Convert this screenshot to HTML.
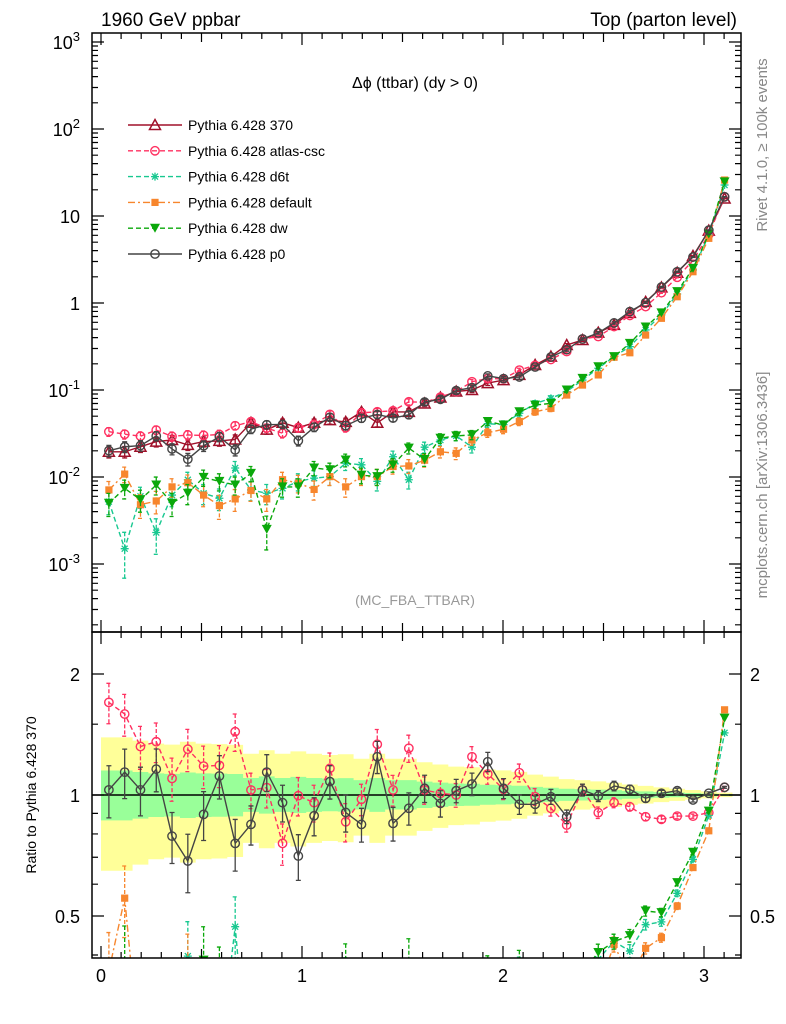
<!DOCTYPE html>
<html><head><meta charset="utf-8"><style>
html,body{margin:0;padding:0;background:#fff;overflow:hidden;width:786px;height:1024px}
svg{display:block}
svg text{font-family:"Liberation Sans",sans-serif}
</style></head><body>
<svg id="c" width="786" height="1024" xmlns="http://www.w3.org/2000/svg">
<defs>
<clipPath id="cm"><rect x="92" y="33" width="649" height="599"/></clipPath>
<clipPath id="cr"><rect x="92" y="632" width="649" height="326"/></clipPath>
</defs>
<g id="bands" clip-path="url(#cr)"></g>
<g id="marks"></g>
<g id="axes"></g>
<text x="101" y="26" font-size="19">1960 GeV ppbar</text>
<text x="737" y="26" font-size="19" text-anchor="end">Top (parton level)</text>
<text x="415" y="88" font-size="16" text-anchor="middle">Δϕ (ttbar) (dy &gt; 0)</text>
<text x="415" y="605" font-size="14" fill="#999" text-anchor="middle">(MC_FBA_TTBAR)</text>
<text transform="translate(767,145) rotate(-90)" font-size="15" fill="#888" text-anchor="middle">Rivet 4.1.0, ≥ 100k events</text>
<text transform="translate(767,485) rotate(-90)" font-size="15" fill="#888" text-anchor="middle">mcplots.cern.ch [arXiv:1306.3436]</text>
<text transform="translate(36,795) rotate(-90)" font-size="14" text-anchor="middle">Ratio to Pythia 6.428 370</text>
<g id="legend"></g>
</svg>
<script>
const NS="http://www.w3.org/2000/svg";
const nBins=40;
const ref370=[0.0195,0.0195,0.0223,0.0255,0.0266,0.0234,0.0255,0.026,0.027,0.042,0.035,0.042,0.037,0.042,0.045,0.043,0.056,0.042,0.056,0.056,0.070,0.082,0.096,0.1,0.12,0.13,0.149,0.194,0.242,0.329,0.375,0.456,0.56,0.77,1.03,1.51,2.23,3.47,6.8,15.9];
const p0Ratio=[1.03,1.14,1.03,1.16,0.79,0.685,0.895,1.115,0.758,0.845,1.14,0.957,0.705,0.888,1.08,0.905,0.845,1.245,0.85,0.927,1.039,0.953,1.025,1.065,1.21,1.039,0.948,0.948,0.99,0.883,1.029,0.994,1.053,1.033,0.981,1.01,1.025,0.972,1.01,1.045];
const atlasRatio=[1.70,1.59,1.32,1.357,1.10,1.30,1.18,1.185,1.437,1.029,1.043,0.758,0.996,0.957,1.165,0.858,0.976,1.337,1.029,1.307,1.029,1.01,1.0,1.245,1.128,1.033,1.136,0.99,0.927,0.842,1.029,0.904,0.957,0.935,0.883,0.87,0.886,0.886,0.904,1.045];
const d6t=[0.0052,0.0015,0.0060,0.0023,0.0062,0.0093,0.0065,0.0057,0.0127,0.0071,0.0065,0.0074,0.0089,0.0097,0.0101,0.0144,0.0138,0.0089,0.0171,0.0093,0.022,0.0266,0.0297,0.022,0.041,0.040,0.054,0.070,0.080,0.096,0.130,0.178,0.242,0.315,0.49,0.73,1.27,2.4,6.05,22.7];
const dflt=[0.0071,0.0108,0.0048,0.0053,0.0077,0.0086,0.0062,0.0047,0.0056,0.0070,0.0056,0.0093,0.0085,0.0072,0.0101,0.0077,0.0101,0.0101,0.0132,0.0134,0.0156,0.0195,0.0187,0.0266,0.0323,0.0354,0.0434,0.0562,0.0616,0.0875,0.114,0.149,0.238,0.268,0.428,0.667,1.18,2.29,5.54,25.9];
const dw=[0.0050,0.0074,0.0055,0.0081,0.0050,0.0065,0.0099,0.0089,0.0081,0.011,0.0025,0.0077,0.0077,0.0127,0.0121,0.0157,0.0105,0.0101,0.0138,0.0215,0.0159,0.0279,0.0297,0.0305,0.0434,0.0396,0.0562,0.0671,0.0702,0.1,0.136,0.185,0.242,0.344,0.53,0.77,1.35,2.5,6.2,24.7];
const yTickLabels=["10^-3","10^-2","10^-1","1","10","10^2","10^3"];
const ratioTicks=[0.5,1,2];
const xTickLabels=[0,1,2,3];

const xs=v=>101+201*v;
const ym=v=>303-87*Math.log10(v);
const yr=r=>795-402*Math.log10(r);
const binW=Math.PI/nBins;
const cx=i=>xs((i+0.5)*binW);
const relErr=v=>Math.min(0.75,0.021/Math.sqrt(v));
const YMAX=960;
const svg=document.getElementById('c');
function mk(tag,attrs,parent){const e=document.createElementNS(NS,tag);for(const k in attrs)e.setAttribute(k,attrs[k]);(parent||svg).appendChild(e);return e;}

const bands=document.getElementById('bands');
[[2.6,'#ffff99'],[1,'#99ff99']].forEach(([k,col])=>{
  let up="",dn="";
  for(let i=0;i<nBins;i++){const e=relErr(ref370[i])*k;const x0=xs(i*binW),x1=xs((i+1)*binW);
    up+=(i?"L":"M")+x0+","+yr(1+e)+"L"+x1+","+yr(1+e);
    const lo=Math.max(0.4,1-e*0.9);
    dn=" L"+x1+","+yr(lo)+" L"+x0+","+yr(lo)+dn;}
  const p=mk('path',{d:up+dn+"Z",fill:col},bands);
  
  
});
mk('line',{x1:92,x2:741,y1:795,y2:795,stroke:'#000','stroke-width':1.5},bands);

const series=[
 {name:'370',label:'Pythia 6.428 370',col:'#a0102a',dash:'',mark:'tri',vals:ref370.slice(),ratio:ref370.map(()=>1)},
 {name:'atlas-csc',label:'Pythia 6.428 atlas-csc',col:'#ff3060',dash:'5,3',mark:'circ',vals:ref370.map((v,i)=>v*atlasRatio[i]),ratio:atlasRatio},
 {name:'d6t',label:'Pythia 6.428 d6t',col:'#18c890',dash:'5,3',mark:'star',vals:d6t,ratio:d6t.map((v,i)=>v/ref370[i])},
 {name:'default',label:'Pythia 6.428 default',col:'#f7862d',dash:'7,3,2,3',mark:'sq',vals:dflt,ratio:dflt.map((v,i)=>v/ref370[i])},
 {name:'dw',label:'Pythia 6.428 dw',col:'#0aa80a',dash:'5,3',mark:'tridn',vals:dw,ratio:dw.map((v,i)=>v/ref370[i])},
 {name:'p0',label:'Pythia 6.428 p0',col:'#444444',dash:'',mark:'circ',vals:ref370.map((v,i)=>v*p0Ratio[i]),ratio:p0Ratio}
];
function marker(g,type,x,y,col){
  let e;
  if(type=='tri')e=mk('path',{d:`M${x},${y-5.5}L${x+5.5},${y+4.5}L${x-5.5},${y+4.5}Z`,fill:'none',stroke:col,'stroke-width':1.5},g);
  else if(type=='tridn')e=mk('path',{d:`M${x-5},${y-4.5}L${x+5},${y-4.5}L${x},${y+4.5}Z`,fill:col},g);
  else if(type=='circ')e=mk('circle',{cx:x,cy:y,r:4.2,fill:'none',stroke:col,'stroke-width':1.4},g);
  else if(type=='sq')e=mk('rect',{x:x-3.6,y:y-3.6,width:7.2,height:7.2,fill:col},g);
  else {e=mk('path',{d:`M${x-4},${y}h8M${x},${y-4}v8M${x-3},${y-3}l6,6M${x+3},${y-3}l-6,6`,stroke:col,'stroke-width':1.3},g);}
  return e;
}
function clippedPath(P){
  let d="",pen=false;
  for(let i=0;i<P.length-1;i++){
    let [x1,y1]=P[i],[x2,y2]=P[i+1];
    if(y1>YMAX&&y2>YMAX){pen=false;continue;}
    if(y1>YMAX){const t=(YMAX-y1)/(y2-y1);x1=x1+t*(x2-x1);y1=YMAX;pen=false;}
    let endClip=false;
    if(y2>YMAX){const t=(YMAX-y1)/(y2-y1);x2=x1+t*(x2-x1);y2=YMAX;endClip=true;}
    if(!pen)d+=`M${x1.toFixed(1)},${y1.toFixed(1)}`;
    d+=`L${x2.toFixed(1)},${y2.toFixed(1)}`;
    pen=!endClip;
  }
  return d;
}
const marks=document.getElementById('marks');
series.forEach(s=>{
  [['main',s.vals,ym,'cm'],['ratio',s.ratio,yr,'cr']].forEach(([panel,arr,yf,clip])=>{
    const g=mk('g',{'clip-path':`url(#${clip})`},marks);
    
    
    if(panel=='ratio'&&s.name=='370')return;
    const P=arr.map((v,i)=>[cx(i),yf(v)]);
    const pl=mk('path',{d:clippedPath(P),fill:'none',stroke:s.col,'stroke-width':1.4,'stroke-dasharray':s.dash},g);
    
    
    arr.forEach((v,i)=>{
      const e=relErr(s.vals[i]);const x=cx(i);
      const y1=yf(v*(1+e));
      if(y1>YMAX)return;
      const y2raw=yf(Math.max(v*(1-e),1e-9));
      const y2=Math.min(y2raw,YMAX);
      const cap2=y2raw<=YMAX?`M${x-2.5},${y2}h5`:"";
      const eb=mk('path',{d:`M${x},${y1}V${y2}M${x-2.5},${y1}h5${cap2}`,stroke:s.col,'stroke-width':1.3,'stroke-dasharray':s.dash?'4,2':''},g);
      
      
      const y=yf(v);
      if(y>YMAX+6)return;
      const m=marker(g,s.mark,x,y,s.col);
      
      
    });
  });
});
const lg=document.getElementById('legend');
series.forEach((s,k)=>{
  const y=125+k*25.8;
  const g=mk('g',{},lg);
  
  
  mk('line',{x1:128,x2:182,y1:y,y2:y,stroke:s.col,'stroke-width':1.4,'stroke-dasharray':s.dash},g);
  marker(g,s.mark,155,y,s.col);
  const t=mk('text',{x:188,y:y+5,'font-size':14},g);t.textContent=s.label;
});
const ax=document.getElementById('axes');
mk('rect',{x:92,y:33,width:649,height:599,fill:'none',stroke:'#000','stroke-width':1.5},ax);
mk('rect',{x:92,y:632,width:649,height:326,fill:'none',stroke:'#000','stroke-width':1.5},ax);
let d="";
for(let e=-4;e<=3;e++){for(let m=1;m<10;m++){const v=m*Math.pow(10,e);const y=ym(v);if(y<33||y>632)continue;const L=m==1?12:6;d+=`M92,${y}h${L}M741,${y}h${-L}`;}}
[0.4,0.5,0.6,0.7,0.8,0.9,1,1.5,2].forEach(r=>{const y=yr(r);const L=(r==0.5||r==1||r==2)?12:6;d+=`M92,${y}h${L}M741,${y}h${-L}`;});
for(let k=0;k<=31;k++){const v=k/10;const x=xs(v);const L=k%10==0?12:(k%5==0?9:6);d+=`M${x},958v${-L}M${x},632v${-L}M${x},632v${L}M${x},33v${L}`;}
mk('path',{d:d,stroke:'#000','stroke-width':1.2,fill:'none'},ax);
yTickLabels.forEach((lab,k)=>{
  const y=ym(Math.pow(10,k-3));
  const t=mk('text',{x:80,y:y+7,'font-size':18,'text-anchor':'end'},ax);
  
  
  const p=lab.split('^');
  if(p.length==1)t.textContent=lab;
  else{const a=mk('tspan',{},t);a.textContent=p[0];const b=mk('tspan',{dy:-8,'font-size':13},t);b.textContent=p[1];}
});
ratioTicks.forEach(r=>{
  [[80,'end'],[750,'start']].forEach(([x,an])=>{
    const t=mk('text',{x:x,y:yr(r)+7,'font-size':18,'text-anchor':an},ax);
    
    
    t.textContent=r;
  });
});
xTickLabels.forEach(v=>{
  const t=mk('text',{x:xs(v),y:982,'font-size':18,'text-anchor':'middle'},ax);
  
  
  t.textContent=v;
});
</script>
</body></html>
